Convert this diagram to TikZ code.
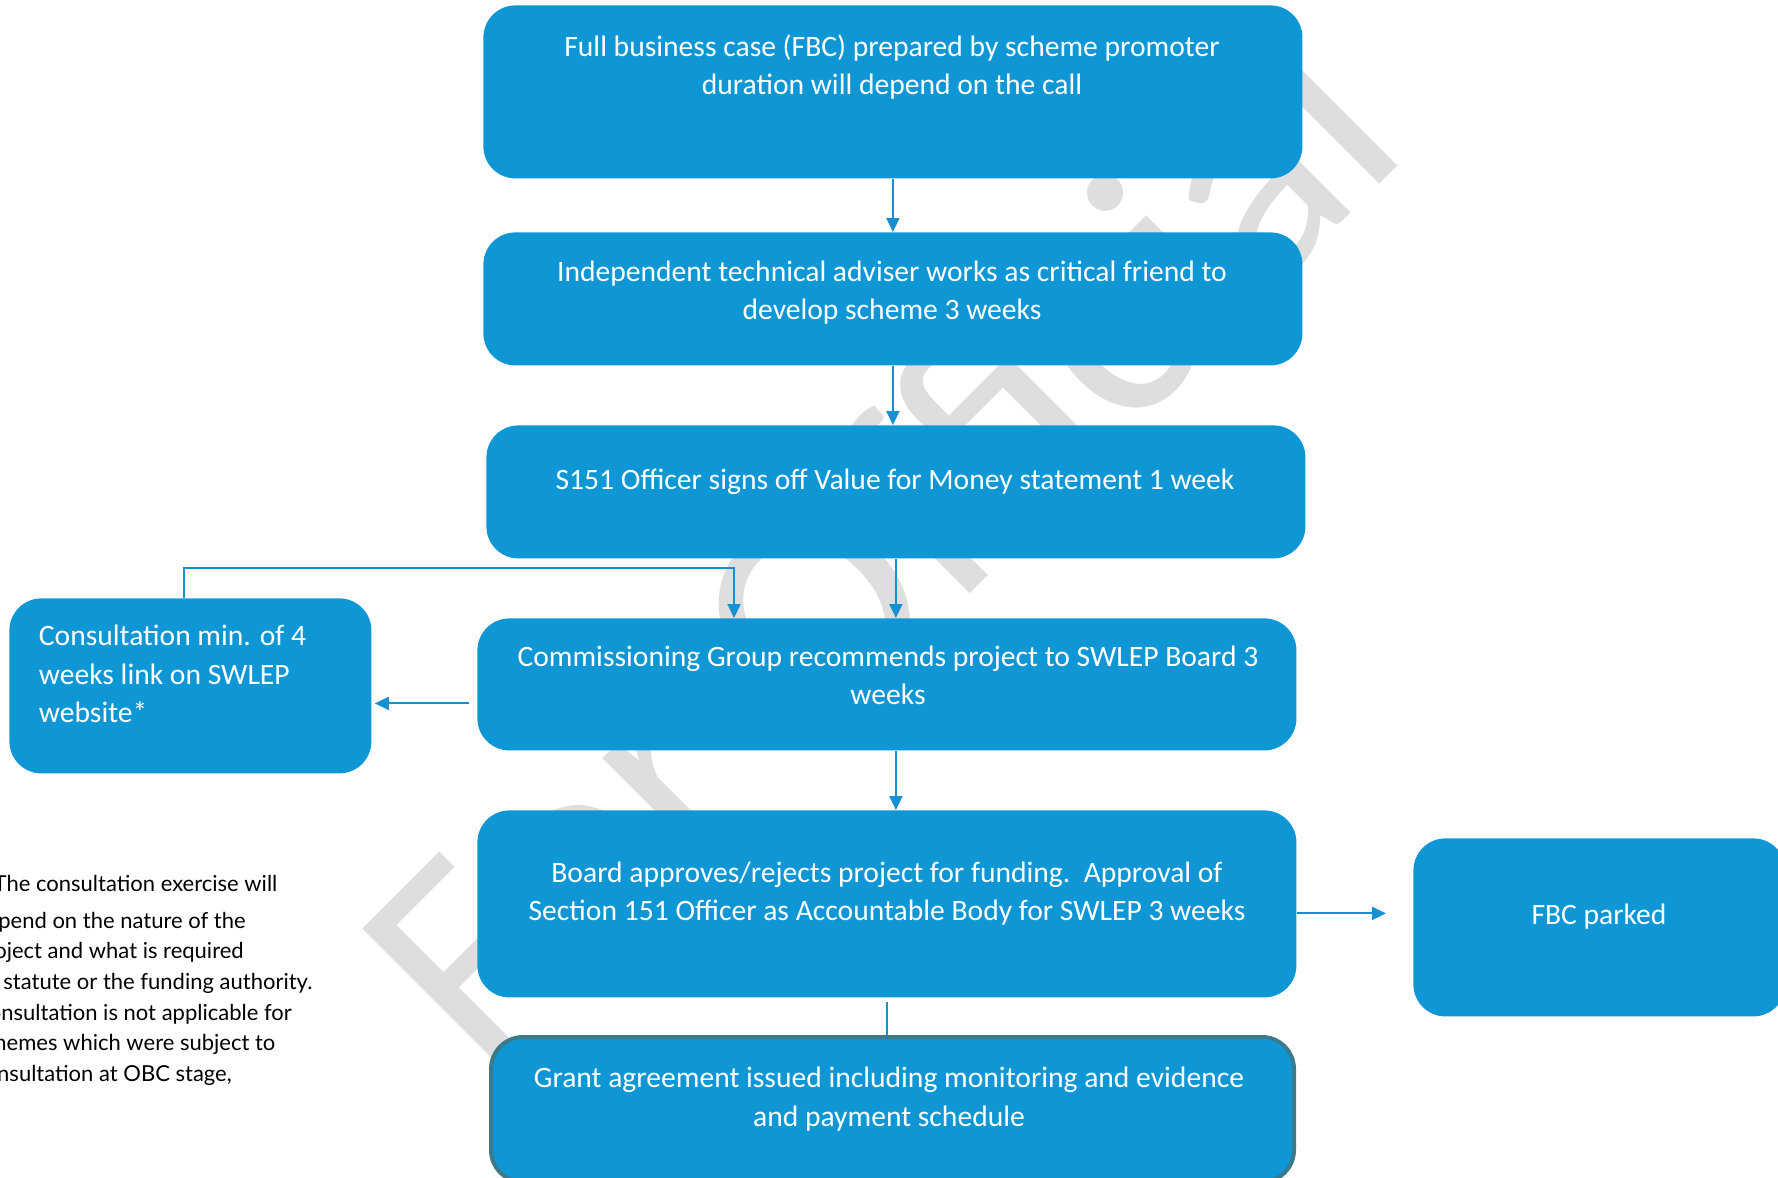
\documentclass[tikz,border=0pt]{standalone}
\usepackage{fontspec}
\setmainfont{Carlito}
\newfontfamily\notefont{Lato}
\usetikzlibrary{arrows.meta}
\definecolor{boxblue}{RGB}{14,151,212}
\definecolor{lineblue}{RGB}{21,144,208}
\definecolor{edgeteal}{RGB}{58,122,138}
\definecolor{wmgray}{RGB}{222,222,222}

\begin{document}
\begin{tikzpicture}[x=0.5pt,y=-0.5pt,
  box/.style={rectangle,rounded corners=16pt,fill=boxblue,anchor=north west,inner sep=0pt},
  boxtext/.style={text=white,align=center,inner sep=0pt,font=\fontsize{14.8}{19.3}\selectfont},
  arr/.style={draw=lineblue,line width=1pt,-{Triangle[length=7pt,width=6.5pt]}},
  link/.style={draw=lineblue,line width=1pt}]
  \useasboundingbox (0,0) rectangle (1778,1178);
  \clip (0,0) rectangle (1778,1178);
  %\draw[help lines] (0,0) grid[step=100] (1778,1178);
\node[rotate=45,anchor=base west,inner sep=0pt,text=wmgray,
  font=\fontsize{150}{150}\selectfont] (wm) at (484,1080) {For Official};

\node[box,minimum width=409.5pt,minimum height=86.5pt] (fbc) at (483,5) {};
\node[boxtext] (fbctxt) at (892,67)
  {Full business case (FBC) prepared by scheme promoter\\duration will depend on the call};
\node[box,minimum width=409.5pt,minimum height=66.5pt] (ita) at (483,232) {};
\node[boxtext] (itatxt) at (892,292.5)
  {Independent technical adviser works as critical friend to\\develop scheme 3 weeks};
\node[box,minimum width=409.5pt,minimum height=66.5pt] (sign) at (486,425) {};
\node[boxtext] (signtxt) at (895,482)
  {S151 Officer signs off Value for Money statement 1 week};
\node[box,minimum width=409.5pt,minimum height=66pt] (cg) at (477,618) {};
\node[boxtext] (cgtxt) at (888,675.5)
  {Commissioning Group recommends project to SWLEP Board 3\\weeks};
\node[box,minimum width=181pt,minimum height=87.5pt] (cons) at (9,598) {};
\node[boxtext,align=left,anchor=west] (constxt) at (38.5,674)
  {Consultation min. of 4\\weeks link on SWLEP\\website*};
\node[box,minimum width=409.5pt,minimum height=93.5pt] (board) at (477,810) {};
\node[boxtext] (boardtxt) at (887,893.5)
  {Board approves/rejects project for funding.\ \ Approval of\\Section 151 Officer as Accountable Body for SWLEP 3 weeks};
\node[box,minimum width=186pt,minimum height=89pt] (parked) at (1413,838) {};
\node[boxtext] (parkedtxt) at (1599,917) {FBC parked};
\node[box,draw=edgeteal,line width=2pt,minimum width=401.5pt,minimum height=72.5pt] (grant) at (489,1035) {};
\node[boxtext] (granttxt) at (889,1099)
  {Grant agreement issued including monitoring and evidence\\and payment schedule};

\node[anchor=north west,align=left,inner sep=0pt,
  font=\notefont\fontsize{11}{15.3}\selectfont] (note) at (-26,875)
  {*\hspace{5pt}The consultation exercise will\\[2.9pt]depend on the nature of the\\project and what is required\\by statute or the funding authority.\\Consultation is not applicable for\\schemes which were subject to\\consultation at OBC stage,};

\draw[arr] (fbc.south) -- (fbc.south |- ita.north);
\draw[arr] (ita.south) -- (ita.south |- sign.north);
\draw[arr] (sign.south) -- (sign.south |- cg.north);
\draw[arr] (sign.south |- cg.south) -- (sign.south |- board.north);
\draw[link,shorten <=2pt] (board.south) -- (board.south |- grant.north);
\coordinate (cgin) at (734,568);
\draw[arr] ([xshift=-3pt]cons.north) |- (cgin) -- (cgin |- cg.north);
\draw[arr,shorten <=4pt,shorten >=1.5pt] ([yshift=-9.5pt]cg.west) -- ([yshift=-9.5pt]cg.west -| cons.east);
\draw[arr,shorten >=13.5pt] ([yshift=-4.75pt]board.east) -- ([yshift=-4.75pt]board.east -| parked.west);
\end{tikzpicture}
\end{document}
